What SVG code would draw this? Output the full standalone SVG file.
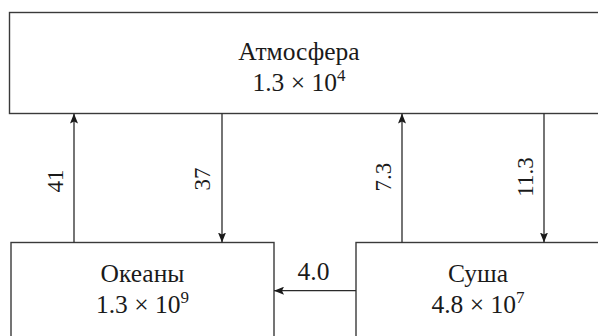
<svg xmlns="http://www.w3.org/2000/svg" width="598" height="336" viewBox="0 0 598 336">
<style>
.box{fill:#fff;stroke:#3a3a3a;stroke-width:1.4}
.ln{stroke:#2a2a2a;stroke-width:1.3;fill:none}
.t{font-size:25.5px;fill:#1a1a1a}
.n{font-size:23px;fill:#1a1a1a}
.c{text-anchor:middle}
.sup{font-size:17px}
</style>
<defs>
<marker id="ah" viewBox="0 0 10 8" refX="10" refY="4" markerWidth="10" markerHeight="8" markerUnits="userSpaceOnUse" orient="auto">
<path d="M0,0 L10,4 L0,8 L2,4 Z" fill="#1a1a1a"/>
</marker>
</defs>
<rect width="598" height="336" fill="#fff"/>
<g font-family="Liberation Serif, Times New Roman, DejaVu Serif, serif">
<g id="atm">
<rect class="box" x="9.5" y="12.5" width="600" height="101"/>
<text class="t c" x="299" y="60">Атмосфера</text>
<text class="t c" x="299" y="90.5">1.3 × 10<tspan class="sup" dy="-10">4</tspan></text>
</g>
<g id="ocean">
<rect class="box" x="11" y="242.5" width="263" height="110"/>
<text class="t c" x="142.5" y="281.7">Океаны</text>
<text class="t c" x="142.5" y="313">1.3 × 10<tspan class="sup" dy="-10">9</tspan></text>
</g>
<g id="land">
<rect class="box" x="356" y="242.5" width="260" height="110"/>
<text class="t c" x="478" y="281.7">Суша</text>
<text class="t c" x="478" y="313">4.8 × 10<tspan class="sup" dy="-10">7</tspan></text>
</g>
<g id="connectors">
<line class="ln" x1="74" y1="242.5" x2="74" y2="113.5" marker-end="url(#ah)"/>
<line class="ln" x1="222" y1="113.5" x2="222" y2="242.5" marker-end="url(#ah)"/>
<line class="ln" x1="402" y1="242.5" x2="402" y2="113.5" marker-end="url(#ah)"/>
<line class="ln" x1="544" y1="113.5" x2="544" y2="242.5" marker-end="url(#ah)"/>
<line class="ln" x1="356" y1="290.7" x2="274" y2="290.7" marker-end="url(#ah)"/>
<text class="n c" x="63" y="181" transform="rotate(-90 63 181)">41</text>
<text class="n c" x="210" y="179" transform="rotate(-90 210 179)">37</text>
<text class="n c" x="391" y="177" transform="rotate(-90 391 177)">7.3</text>
<text class="n c" x="533" y="177" transform="rotate(-90 533 177)">11.3</text>
<text class="t c" x="313.5" y="280">4.0</text>
</g>
</g>
</svg>
